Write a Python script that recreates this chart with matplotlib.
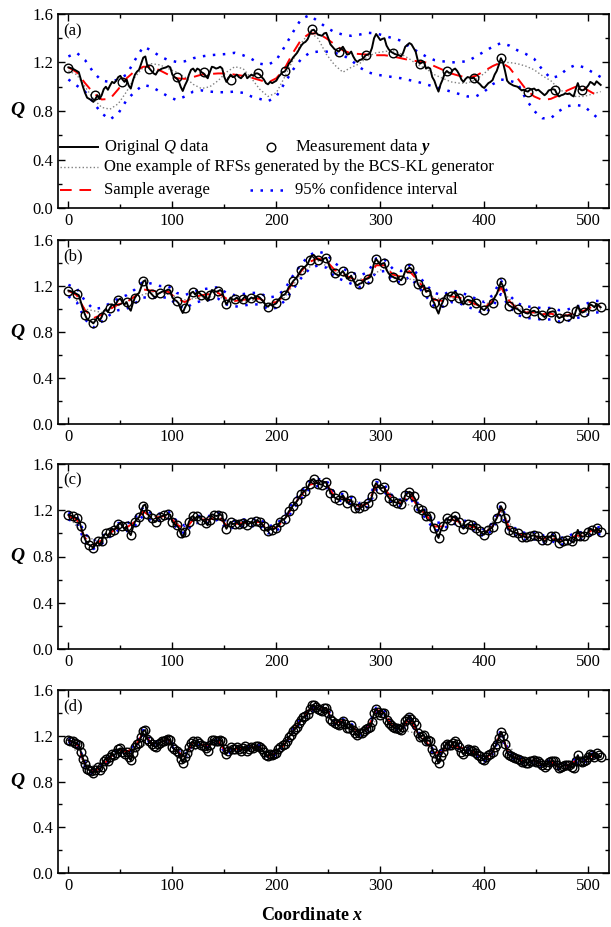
import numpy as np
import matplotlib
matplotlib.use('Agg')
import matplotlib.pyplot as plt
from matplotlib.ticker import MultipleLocator

plt.rcParams['font.family'] = ['Liberation Serif', 'DejaVu Serif']
plt.rcParams['mathtext.fontset'] = 'custom'
plt.rcParams['mathtext.rm'] = 'Liberation Serif'
plt.rcParams['mathtext.it'] = 'Liberation Serif:italic'
plt.rcParams['mathtext.bf'] = 'Liberation Serif:bold'
plt.rcParams['mathtext.bfit'] = 'Liberation Serif:italic:bold'

# --- original Q data, every 2 units from 0 to 512 ---
x_q = np.arange(0, 513, 2)
q_orig = [
    1.16, 1.155, 1.15, 1.14, 1.13, 1.12, 1.06, 1.00, 0.95, 0.91,
    0.90, 0.89, 0.875, 0.90, 0.93, 0.90, 0.93, 0.98, 1.00, 0.975,
    1.01, 1.04, 1.03, 1.05, 1.08, 1.09, 1.06, 1.04, 1.06, 1.01,
    0.985, 1.05, 1.10, 1.125, 1.14, 1.19, 1.24, 1.25, 1.17, 1.15,
    1.13, 1.11, 1.10, 1.13, 1.14, 1.15, 1.155, 1.16, 1.17, 1.16,
    1.10, 1.08, 1.07, 1.05, 1.00, 0.965, 1.01, 1.045, 1.10, 1.14,
    1.15, 1.125, 1.15, 1.14, 1.12, 1.11, 1.09, 1.07, 1.12, 1.165,
    1.16, 1.15, 1.155, 1.165, 1.15, 1.08, 1.04, 1.07, 1.10, 1.08,
    1.085, 1.10, 1.08, 1.07, 1.09, 1.11, 1.07, 1.085, 1.10, 1.09,
    1.11, 1.11, 1.10, 1.08, 1.06, 1.03, 1.02, 1.04, 1.03, 1.04,
    1.05, 1.08, 1.10, 1.12, 1.125, 1.15, 1.19, 1.21, 1.24, 1.26,
    1.28, 1.31, 1.34, 1.36, 1.37, 1.39, 1.43, 1.465, 1.47, 1.45,
    1.43, 1.425, 1.42, 1.44, 1.445, 1.40, 1.35, 1.33, 1.31, 1.30,
    1.29, 1.31, 1.33, 1.30, 1.265, 1.27, 1.29, 1.25, 1.22, 1.205,
    1.22, 1.225, 1.24, 1.26, 1.265, 1.275, 1.32, 1.40, 1.435, 1.41,
    1.385, 1.395, 1.40, 1.34, 1.31, 1.29, 1.28, 1.27, 1.265, 1.26,
    1.25, 1.28, 1.33, 1.345, 1.36, 1.35, 1.32, 1.29, 1.22, 1.19,
    1.20, 1.205, 1.15, 1.16, 1.15, 1.08, 1.05, 1.00, 0.96, 1.02,
    1.06, 1.11, 1.13, 1.115, 1.115, 1.14, 1.15, 1.13, 1.10, 1.06,
    1.04, 1.065, 1.08, 1.075, 1.07, 1.075, 1.05, 1.035, 1.02, 1.00,
    0.99, 1.01, 1.03, 1.04, 1.055, 1.10, 1.13, 1.18, 1.235, 1.20,
    1.13, 1.05, 1.03, 1.02, 1.01, 1.005, 1.00, 0.985, 0.97, 0.975,
    0.965, 0.96, 0.975, 0.98, 0.985, 0.97, 0.975, 0.96, 0.945, 0.93,
    0.945, 0.97, 0.975, 0.98, 0.975, 0.94, 0.92, 0.93, 0.935, 0.945,
    0.94, 0.945, 0.93, 0.92, 0.98, 1.03, 0.98, 0.97, 0.975, 0.99,
    1.01, 1.04, 1.03, 1.015, 1.045, 1.03, 1.015,
]

# --- measurement data y (panel a: 20 points, others sampled on the Q grid) ---
x_meas_a = [0, 26, 52, 78, 104, 130, 156, 182, 208, 234,
            260, 286, 312, 338, 364, 390, 416, 442, 468, 494]
y_meas_a = [1.157, 0.93, 1.04, 1.146, 1.078, 1.12, 1.056, 1.116, 1.13, 1.474,
            1.29, 1.262, 1.28, 1.185, 1.13, 1.075, 1.235, 0.96, 0.973, 0.973]

# --- grid for the smooth curves ---
x8 = np.arange(0, 513, 8)
x16 = np.arange(0, 513, 16)

# panel (a)
avg_a = [1.16, 1.12, 1.03, 0.95, 0.895, 0.90, 0.98, 1.07, 1.13, 1.165,
         1.165, 1.135, 1.10, 1.07, 1.065, 1.08, 1.10, 1.105, 1.11, 1.11,
         1.10, 1.09, 1.075, 1.055, 1.035, 1.07, 1.15, 1.28, 1.39, 1.44,
         1.44, 1.40, 1.35, 1.30, 1.275, 1.27, 1.265, 1.26, 1.26, 1.25,
         1.235, 1.22, 1.21, 1.20, 1.17, 1.14, 1.11, 1.09, 1.075, 1.09,
         1.13, 1.17, 1.20, 1.16, 1.07, 0.98, 0.92, 0.89, 0.90, 0.93,
         0.97, 1.00, 0.99, 0.95, 0.92]
up_a = [1.25, 1.28, 1.22, 1.12, 1.05, 1.04, 1.06, 1.10, 1.22, 1.33,
        1.30, 1.25, 1.22, 1.205, 1.21, 1.235, 1.25, 1.26, 1.265, 1.27,
        1.28, 1.26, 1.23, 1.19, 1.18, 1.22, 1.33, 1.45, 1.56, 1.59,
        1.54, 1.49, 1.45, 1.43, 1.42, 1.43, 1.445, 1.44, 1.42, 1.40,
        1.38, 1.33, 1.29, 1.25, 1.22, 1.21, 1.20, 1.205, 1.21, 1.25,
        1.29, 1.33, 1.36, 1.34, 1.30, 1.27, 1.23, 1.14, 1.07, 1.09,
        1.15, 1.18, 1.16, 1.12, 1.08]
lo_a = [1.06, 1.01, 0.96, 0.87, 0.78, 0.73, 0.78, 0.89, 0.96, 1.015,
        1.00, 0.96, 0.92, 0.89, 0.92, 0.96, 0.97, 0.96, 0.955, 0.955,
        0.96, 0.95, 0.92, 0.90, 0.88, 0.92, 1.03, 1.14, 1.23, 1.28,
        1.29, 1.29, 1.28, 1.26, 1.22, 1.16, 1.12, 1.10, 1.09, 1.08,
        1.07, 1.055, 1.04, 1.02, 1.00, 0.98, 0.96, 0.94, 0.92, 0.92,
        0.96, 1.02, 1.06, 1.05, 1.03, 0.90, 0.80, 0.74, 0.74, 0.80,
        0.84, 0.85, 0.84, 0.78, 0.72]
rfs_a = [1.13, 1.10, 1.00, 0.90, 0.83, 0.815, 0.86, 0.96, 1.08, 1.16,
         1.19, 1.18, 1.15, 1.12, 1.08, 1.02, 0.985, 1.00, 1.05, 1.12,
         1.165, 1.15, 1.07, 0.98, 0.92, 0.95, 1.08, 1.22, 1.36, 1.45,
         1.40, 1.27, 1.18, 1.12, 1.16, 1.19, 1.25, 1.28, 1.29, 1.30,
         1.27, 1.23, 1.18, 1.15, 1.10, 1.07, 1.04, 1.03, 1.03, 1.06,
         1.11, 1.17, 1.20, 1.20, 1.19, 1.17, 1.14, 1.09, 1.05, 0.98,
         0.94, 0.92, 0.92, 0.94, 0.96]

# panel (b)
avg_b = [1.16, 1.12, 0.99, 0.92, 0.95, 1.00, 1.04, 1.06, 1.11, 1.17,
         1.16, 1.15, 1.15, 1.09, 1.06, 1.10, 1.12, 1.13, 1.14, 1.09,
         1.07, 1.08, 1.09, 1.09, 1.05, 1.06, 1.12, 1.23, 1.33, 1.41,
         1.44, 1.42, 1.34, 1.30, 1.27, 1.24, 1.27, 1.38, 1.38, 1.30,
         1.28, 1.33, 1.25, 1.16, 1.08, 1.07, 1.11, 1.10, 1.07, 1.04,
         1.01, 1.07, 1.19, 1.07, 1.00, 0.97, 0.97, 0.955, 0.96, 0.94,
         0.945, 0.97, 0.985, 1.02, 1.02]
hw_b = [0.05, 0.06, 0.08, 0.08, 0.06, 0.05, 0.05, 0.06, 0.06, 0.07,
        0.06, 0.05, 0.05, 0.05, 0.06, 0.05, 0.05, 0.05, 0.05, 0.05,
        0.05, 0.05, 0.05, 0.05, 0.05, 0.05, 0.05, 0.06, 0.06, 0.06,
        0.06, 0.06, 0.06, 0.05, 0.05, 0.05, 0.05, 0.06, 0.05, 0.05,
        0.05, 0.05, 0.05, 0.05, 0.06, 0.05, 0.05, 0.05, 0.05, 0.05,
        0.05, 0.05, 0.06, 0.05, 0.05, 0.05, 0.05, 0.05, 0.05, 0.05,
        0.05, 0.05, 0.05, 0.05, 0.05]
rfs_b = [1.15, 1.00, 0.97, 1.03, 1.10, 1.15, 1.13, 1.08, 1.10, 1.11,
         1.05, 1.08, 1.04, 1.10, 1.31, 1.42, 1.33, 1.25, 1.27, 1.36,
         1.27, 1.25, 1.09, 1.10, 1.05, 1.02, 1.17, 1.01, 0.96, 0.95,
         0.94, 0.97, 1.00]

# panel (c)
avg_c = [1.15, 1.12, 0.96, 0.90, 0.94, 1.00, 1.06, 1.05, 1.10, 1.19,
         1.14, 1.14, 1.16, 1.08, 1.03, 1.12, 1.12, 1.12, 1.15, 1.07,
         1.08, 1.09, 1.09, 1.10, 1.03, 1.05, 1.12, 1.24, 1.33, 1.42,
         1.44, 1.43, 1.32, 1.31, 1.28, 1.23, 1.26, 1.41, 1.39, 1.29,
         1.26, 1.35, 1.23, 1.16, 1.06, 1.06, 1.12, 1.10, 1.07, 1.05,
         1.00, 1.06, 1.21, 1.05, 1.00, 0.97, 0.98, 0.95, 0.97, 0.93,
         0.94, 0.98, 0.98, 1.03, 1.02]
hw_c = [0.03, 0.03, 0.035, 0.035, 0.03, 0.03, 0.03, 0.03, 0.035, 0.035,
        0.03, 0.03, 0.03, 0.03, 0.035, 0.03, 0.03, 0.03, 0.03, 0.03,
        0.03, 0.03, 0.03, 0.03, 0.03, 0.03, 0.03, 0.03, 0.03, 0.03,
        0.03, 0.03, 0.03, 0.03, 0.03, 0.03, 0.03, 0.035, 0.03, 0.03,
        0.03, 0.03, 0.03, 0.03, 0.035, 0.03, 0.03, 0.03, 0.03, 0.03,
        0.03, 0.03, 0.035, 0.03, 0.03, 0.03, 0.03, 0.03, 0.03, 0.03,
        0.03, 0.03, 0.03, 0.03, 0.03]
rfs_c = [1.15, 0.97, 0.93, 1.05, 1.10, 1.15, 1.15, 1.04, 1.11, 1.14,
         1.09, 1.09, 1.04, 1.12, 1.33, 1.43, 1.31, 1.28, 1.26, 1.39,
         1.27, 1.22, 1.07, 1.11, 1.07, 1.01, 1.19, 1.00, 0.98, 0.96,
         0.94, 0.98, 1.02]

# panel (d)
avg_d = [1.16, 1.13, 0.95, 0.88, 0.93, 1.01, 1.08, 1.06, 1.10, 1.23,
         1.13, 1.14, 1.17, 1.07, 1.01, 1.15, 1.12, 1.12, 1.155, 1.05,
         1.085, 1.09, 1.10, 1.10, 1.02, 1.05, 1.125, 1.24, 1.34, 1.43,
         1.43, 1.44, 1.31, 1.33, 1.29, 1.22, 1.265, 1.43, 1.40, 1.28,
         1.25, 1.36, 1.22, 1.15, 1.05, 1.06, 1.115, 1.10, 1.08, 1.05,
         0.99, 1.055, 1.23, 1.03, 1.00, 0.965, 0.985, 0.945, 0.975, 0.92,
         0.94, 0.98, 0.975, 1.03, 1.015]
hw_d = [0.015, 0.015, 0.02, 0.02, 0.015, 0.015, 0.015, 0.015, 0.015, 0.02,
        0.015, 0.015, 0.015, 0.015, 0.015, 0.015, 0.015, 0.015, 0.015, 0.015,
        0.015, 0.015, 0.015, 0.015, 0.015, 0.015, 0.015, 0.015, 0.015, 0.015,
        0.015, 0.015, 0.015, 0.015, 0.015, 0.015, 0.015, 0.015, 0.015, 0.015,
        0.015, 0.015, 0.015, 0.015, 0.015, 0.015, 0.015, 0.015, 0.015, 0.015,
        0.015, 0.015, 0.02, 0.015, 0.015, 0.015, 0.015, 0.015, 0.015, 0.015,
        0.015, 0.015, 0.015, 0.015, 0.015]
rfs_d = [1.16, 0.95, 0.93, 1.08, 1.10, 1.13, 1.17, 1.01, 1.12, 1.155,
         1.085, 1.10, 1.02, 1.125, 1.34, 1.43, 1.31, 1.29, 1.265, 1.40,
         1.25, 1.22, 1.05, 1.115, 1.08, 0.99, 1.235, 1.00, 0.985, 0.975,
         0.94, 0.975, 1.015]

q_arr = np.array(q_orig)

panels = [
    ('(a)', x_meas_a, y_meas_a, x8, rfs_a, avg_a, up_a, lo_a),
    ('(b)', x_q[::4], q_arr[::4], x16, rfs_b, avg_b,
     np.array(avg_b) + np.array(hw_b), np.array(avg_b) - np.array(hw_b)),
    ('(c)', x_q[::2], q_arr[::2], x16, rfs_c, avg_c,
     np.array(avg_c) + np.array(hw_c), np.array(avg_c) - np.array(hw_c)),
    ('(d)', x_q, q_arr, x16, rfs_d, avg_d,
     np.array(avg_d) + np.array(hw_d), np.array(avg_d) - np.array(hw_d)),
]

# axes boxes in pixels (top, bottom) of the 611x927 figure
boxes = [(14, 208), (240, 424), (464, 649), (690, 873)]

W, H = 611, 927
fig = plt.figure(figsize=(W / 100, H / 100), dpi=100)

blue_ls = (0, (1, 3))
red_ls = (0, (6, 4))

for (lab, xm, ym, xr, rfs, avg, up, lo), (top, bot) in zip(panels, boxes):
    ax = fig.add_axes([58 / W, 1 - bot / H, 551 / W, (bot - top) / H])
    ax.plot(x8, up, color='blue', lw=1.8, ls=blue_ls)
    ax.plot(x8, lo, color='blue', lw=1.8, ls=blue_ls)
    ax.plot(xr, rfs, color='#808080', lw=1.0, ls=':')
    ax.plot(x8, avg, color='red', lw=1.4, ls=red_ls)
    ax.plot(x_q, q_orig, color='black', lw=1.4)
    ax.plot(xm, ym, ls='none', marker='o', ms=6.2, mfc='none', mec='black', mew=1.0)

    ax.set_xlim(-10, 520)
    ax.set_ylim(0, 1.6)
    ax.xaxis.set_major_locator(MultipleLocator(100))
    ax.xaxis.set_minor_locator(MultipleLocator(50))
    ax.yaxis.set_major_locator(MultipleLocator(0.4))
    ax.yaxis.set_minor_locator(MultipleLocator(0.2))
    ax.yaxis.set_major_formatter(plt.FuncFormatter(lambda v, p: f'{v:.1f}'))
    ax.tick_params(which='both', direction='in', top=True, right=True,
                   labelsize=12, width=1.0)
    ax.tick_params(which='major', length=5)
    ax.tick_params(which='minor', length=3)
    for s in ax.spines.values():
        s.set_linewidth(1.2)
    ax.text(0.01, 0.91, lab, transform=ax.transAxes, fontsize=12, va='center')
    ax.set_ylabel('Q', rotation=0, fontsize=14, fontweight='bold',
                  fontstyle='italic', va='center', ha='center')
    ax.yaxis.set_label_coords(-0.073, 0.5)

    if lab == '(a)':
        # legend drawn by hand (one entry spans both columns)
        tr = ax.transAxes
        fs = 12
        ax.plot([0.004, 0.073], [0.316, 0.316], color='black', lw=1.4, transform=tr)
        ax.text(0.083, 0.316, 'Original $Q$ data', transform=tr, fontsize=fs, va='center')
        ax.plot([0.387], [0.316], ls='none', marker='o', ms=6.2, mfc='none',
                mec='black', mew=1.0, transform=tr)
        ax.text(0.43, 0.316, r'Measurement data $\mathbfit{y}$', transform=tr,
                fontsize=fs, va='center')
        ax.plot([0.004, 0.073], [0.21, 0.21], color='#808080', lw=1.0, ls=':', transform=tr)
        ax.text(0.083, 0.21, 'One example of RFSs generated by the BCS-KL generator',
                transform=tr, fontsize=fs, va='center')
        ax.plot([0.004, 0.073], [0.095, 0.095], color='red', lw=1.4, ls=red_ls, transform=tr)
        ax.text(0.083, 0.095, 'Sample average', transform=tr, fontsize=fs, va='center')
        ax.plot([0.348, 0.421], [0.095, 0.095], color='blue', lw=1.8, ls=blue_ls, transform=tr)
        ax.text(0.43, 0.095, '95% confidence interval', transform=tr, fontsize=fs, va='center')

fig.text(0.51, 1 - 916 / H, r'Coordinate $\mathbfit{x}$', fontsize=13,
         fontweight='bold', ha='center', va='center')

fig.savefig('out.png', dpi=100)
